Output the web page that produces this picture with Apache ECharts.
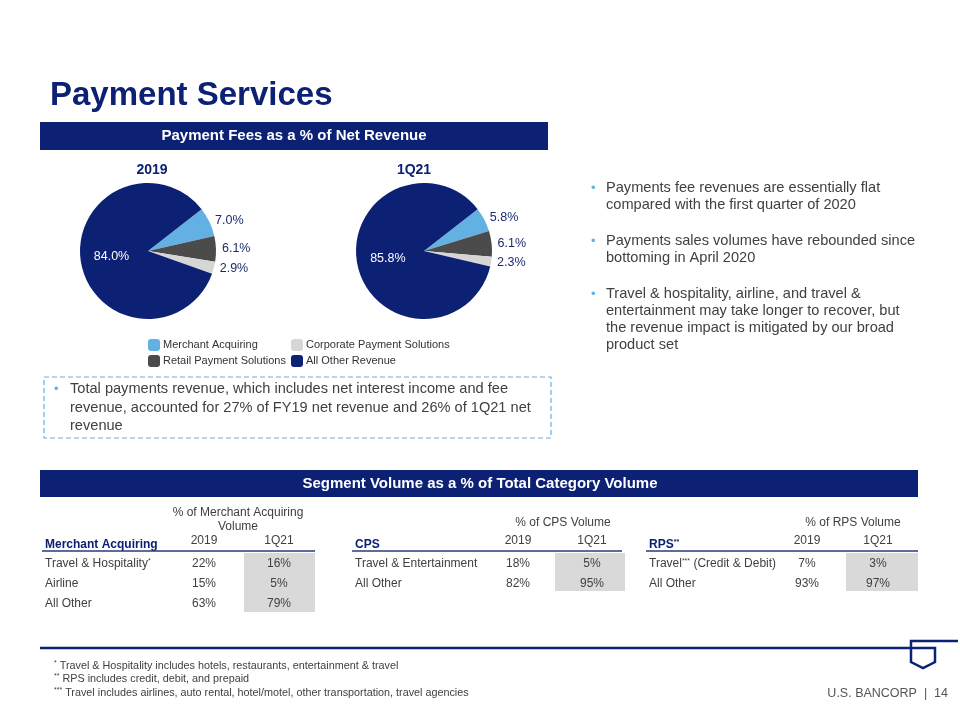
<!DOCTYPE html>
<html>
<head>
<meta charset="utf-8">
<script src="https://cdn.jsdelivr.net/npm/echarts@6/dist/echarts.min.js"></script>
<style>
  html, body { margin: 0; padding: 0; background: #fff; }
  #main { width: 960px; height: 720px; }
</style>
</head>
<body>
<div id="main"></div>
<script>
// pie data
var segments = ['Merchant Acquiring', 'Retail Payment Solutions', 'Corporate Payment Solutions', 'All Other Revenue']
var segColors = ['#63b0e3', '#4b4b4b', '#d6d6d6', '#0c2074']
var fees2019 = [7.0, 6.1, 2.9, 84.0]
var fees1Q21 = [5.8, 6.1, 2.3, 85.8]

// tables
var periods = ['2019', '1Q21']
var maRows = ['Travel & Hospitality', 'Airline', 'All Other']
var maMarks = ['*', '', '']
var ma2019 = [22, 15, 63]
var ma1Q21 = [16, 5, 79]
var cpsRows = ['Travel & Entertainment', 'All Other']
var cps2019 = [18, 82]
var cps1Q21 = [5, 95]
var rpsRows = ['Travel', 'All Other']
var rpsMarks = ['***', '']
var rpsTail = [' (Credit & Debit)', '']
var rps2019 = [7, 93]
var rps1Q21 = [3, 97]

var NAVY = '#0c2074'
var TXT = '#404040'
var FONT = '"Liberation Sans", Arial, sans-serif'

function txt(x, y, text, size, color, opts) {
  opts = opts || {}
  return {
    type: 'text', x: x, y: y, silent: true,
    style: {
      text: text,
      fontFamily: FONT,
      fontSize: size,
      fontWeight: opts.bold ? 'bold' : 'normal',
      fill: color,
      align: opts.align || 'left',
      verticalAlign: 'middle',
      rich: opts.rich
    }
  }
}
function rect(x, y, w, h, fill) {
  return { type: 'rect', silent: true, shape: { x: x, y: y, width: w, height: h }, style: { fill: fill } }
}
function hline(x1, x2, y, color, w) {
  return { type: 'line', silent: true, shape: { x1: x1, y1: y, x2: x2, y2: y }, style: { stroke: color, lineWidth: w } }
}

var supRich = { s: { fontSize: 7, fill: TXT, fontFamily: FONT, verticalAlign: 'top', padding: [0, 0, 6, 0] } }
var supRichNavy = { s: { fontSize: 7, fill: NAVY, fontFamily: FONT, fontWeight: 'bold', verticalAlign: 'top', padding: [0, 0, 6, 0] } }

var graphics = []
// title + header bars
graphics.push(txt(50, 96, 'Payment Services', 33, NAVY, { bold: true }))
graphics.push(rect(40, 122, 508, 28, NAVY))
graphics.push(txt(294, 136, 'Payment Fees as a % of Net Revenue', 15, '#fff', { bold: true, align: 'center' }))
graphics.push(txt(152, 170, '2019', 14, NAVY, { bold: true, align: 'center' }))
graphics.push(txt(414, 170, '1Q21', 14, NAVY, { bold: true, align: 'center' }))

// right bullets
var bullets = [
  ['Payments fee revenues are essentially flat', 'compared with the first quarter of 2020'],
  ['Payments sales volumes have rebounded since', 'bottoming in April 2020'],
  ['Travel & hospitality, airline, and travel &', 'entertainment may take longer to recover, but', 'the revenue impact is mitigated by our broad', 'product set']
]
var by = 188
bullets.forEach(function (lines) {
  graphics.push(txt(591, by, '•', 13, '#63b0e3'))
  lines.forEach(function (l, i) {
    graphics.push(txt(606, by + i * 17, l, 14.6, TXT))
  })
  by += lines.length * 17 + 19
})

// dashed box
graphics.push({ type: 'rect', silent: true, shape: { x: 44, y: 377, width: 507, height: 61 },
  style: { fill: 'none', stroke: '#6aaee0', lineWidth: 1.2, lineDash: [5, 3] } })
graphics.push(txt(54, 389, '•', 13, '#63b0e3'))
;['Total payments revenue, which includes net interest income and fee',
  'revenue, accounted for 27% of FY19 net revenue and 26% of 1Q21 net',
  'revenue'].forEach(function (l, i) {
  graphics.push(txt(70, 389 + i * 18.5, l, 14.6, TXT))
})

// segment bar
graphics.push(rect(40, 470, 878, 27, NAVY))
graphics.push(txt(480, 484, 'Segment Volume as a % of Total Category Volume', 15, '#fff', { bold: true, align: 'center' }))

// tables
function table(cfg) {
  graphics.push(rect(cfg.shadeX, 553, cfg.shadeW, cfg.rows.length === 3 ? 59 : 38, '#d9d9d9'))
  cfg.head.forEach(function (h, i) {
    graphics.push(txt(cfg.headX, cfg.headY + i * 14, h, 12, TXT, { align: 'center' }))
  })
  graphics.push(txt(cfg.x, 545, cfg.title, 12, NAVY, { bold: true, rich: supRichNavy }))
  graphics.push(txt(cfg.c1, 541, periods[0], 12, TXT, { align: 'center' }))
  graphics.push(txt(cfg.c2, 541, periods[1], 12, TXT, { align: 'center' }))
  graphics.push(hline(cfg.x - 3, cfg.x2, 551, '#2a3a78', 1.5))
  cfg.rows.forEach(function (r, i) {
    var y = 564 + i * 20
    graphics.push(txt(cfg.x, y, r, 12, TXT, { rich: supRich }))
    graphics.push(txt(cfg.c1, y, cfg.v1[i] + '%', 12, TXT, { align: 'center' }))
    graphics.push(txt(cfg.c2, y, cfg.v2[i] + '%', 12, TXT, { align: 'center' }))
  })
}
table({
  x: 45, x2: 315, c1: 204, c2: 279, shadeX: 244, shadeW: 71, headX: 238, headY: 513,
  head: ['% of Merchant Acquiring', 'Volume'], title: 'Merchant Acquiring',
  rows: maRows.map(function (r, i) { return maMarks[i] ? r + '{s|' + maMarks[i] + '}' : r }),
  v1: ma2019, v2: ma1Q21
})
table({
  x: 355, x2: 622, c1: 518, c2: 592, shadeX: 555, shadeW: 70, headX: 563, headY: 523,
  head: ['% of CPS Volume'], title: 'CPS',
  rows: cpsRows, v1: cps2019, v2: cps1Q21
})
table({
  x: 649, x2: 918, c1: 807, c2: 878, shadeX: 846, shadeW: 72, headX: 853, headY: 523,
  head: ['% of RPS Volume'], title: 'RPS{s|**}',
  rows: rpsRows.map(function (r, i) { return rpsMarks[i] ? r + '{s|' + rpsMarks[i] + '}' + rpsTail[i] : r }),
  v1: rps2019, v2: rps1Q21
})

// bottom rule + shield
graphics.push({ type: 'polyline', silent: true,
  shape: { points: [[40, 648], [935, 648], [935, 662], [923, 668], [911, 662], [911, 641], [958, 641]] },
  style: { stroke: NAVY, lineWidth: 2.5, fill: 'none' } })

// footnotes
var notes = [
  ['*', 'Travel & Hospitality includes hotels, restaurants, entertainment & travel'],
  ['**', 'RPS includes credit, debit, and prepaid'],
  ['***', 'Travel includes airlines, auto rental, hotel/motel, other transportation, travel agencies']
]
notes.forEach(function (n, i) {
  graphics.push(txt(54, 666 + i * 13.5, '{s|' + n[0] + '} ' + n[1], 10.8, TXT, { rich: supRich }))
})
graphics.push(txt(948, 694, 'U.S. BANCORP  |  14', 12.5, '#555', { align: 'right' }))

function pieSeries(center, values) {
  return {
    type: 'pie',
    center: center,
    radius: 68,
    startAngle: 38,
    clockwise: true,
    avoidLabelOverlap: false,
    silent: true,
    animation: false,
    itemStyle: { borderWidth: 0 },
    label: {
      position: 'outside',
      fontFamily: FONT,
      fontSize: 12.5,
      color: '#1c2b6e',
      distanceToLabelLine: 2,
      formatter: function (p) { return p.value.toFixed(1) + '%' }
    },
    labelLine: { show: false, length: 4, length2: 0 },
    data: segments.map(function (s, i) {
      var d = { name: s, value: values[i], itemStyle: { color: segColors[i] } }
      if (i === segments.length - 1) d.label = { position: 'inside', color: '#fff' }
      return d
    })
  }
}

var chart = echarts.init(document.getElementById('main'))
var legendBase = {
  orient: 'vertical', top: 334, itemWidth: 12, itemHeight: 12, itemGap: 4,
  icon: 'roundRect', selectedMode: false,
  textStyle: { fontFamily: FONT, fontSize: 11, color: '#333', padding: [0, 0, 0, -2] }
}
chart.setOption({
  backgroundColor: '#fff',
  animation: false,
  legend: [
    Object.assign({}, legendBase, { left: 143, data: [segments[0], segments[1]] }),
    Object.assign({}, legendBase, { left: 286, data: [segments[2], segments[3]] })
  ],
  series: [
    pieSeries([148, 251], fees2019),
    pieSeries([424, 251], fees1Q21)
  ],
  graphic: graphics
})
</script>
</body>
</html>
